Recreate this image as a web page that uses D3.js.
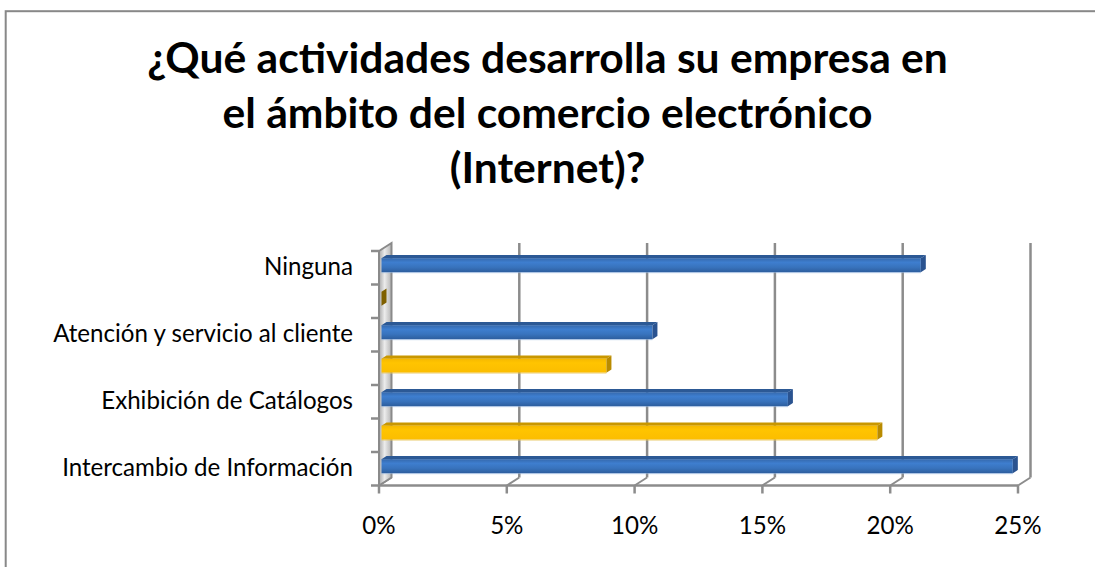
<!DOCTYPE html>
<html>
<head>
<meta charset="utf-8">
<script src="https://cdn.jsdelivr.net/npm/d3@7"></script>
<style>
  html, body { margin: 0; padding: 0; background: #fff; }
  svg { display: block; }
</style>
</head>
<body>
<svg id="chart" width="1095" height="567"></svg>
<script>
// Title lines
const titleLines = [
  "¿Qué actividades desarrolla su empresa en",
  "el ámbito del comercio electrónico",
  "(Internet)?"
];

// Categories, top to bottom (every other label is skipped on the axis)
const categories = [
  "Ninguna",
  "",
  "Atención y servicio al cliente",
  "",
  "Exhibición de Catálogos",
  "",
  "Intercambio de Información"
];

// Percentages for each category
const values = [21.1, 0, 10.6, 8.8, 15.9, 19.4, 24.7];

// Colour group of each bar
const barGroup = ["blue", "gold", "blue", "gold", "blue", "gold", "blue"];

// Value axis ticks
const xTicks = [0, 5, 10, 15, 20, 25];

const svg = d3.select("#chart");
const W = 1095, H = 567;
const labelFont = "Lato, 'Open Sans', sans-serif";

svg.append("rect").attr("width", W).attr("height", H).attr("fill", "#fff");

// chart frame (runs off the right and bottom edges)
svg.append("rect")
  .attr("x", 5.7).attr("y", 11.2)
  .attr("width", 1200).attr("height", 700)
  .attr("fill", "none").attr("stroke", "#888").attr("stroke-width", 2);

// fit a font size so a string gets a given width
function fitSize(text, weight, targetWidth, base) {
  const t = svg.append("text")
    .attr("font-family", labelFont).attr("font-weight", weight)
    .attr("font-size", base).text(text);
  const w = t.node().getComputedTextLength();
  t.remove();
  return base * targetWidth / w;
}

// ---- title ----
const titleSize = fitSize(titleLines[0], "bold", 801, 36);
svg.append("g").selectAll("text").data(titleLines).join("text")
  .attr("x", 547.5)
  .attr("y", (d, i) => 73 + i * 55)
  .attr("text-anchor", "middle")
  .attr("font-family", labelFont)
  .attr("font-weight", "bold")
  .attr("font-size", titleSize)
  .attr("fill", "#000")
  .text(d => d);

// ---- 3D plot geometry ----
const x = d3.scaleLinear().domain([0, 25]).range([379, 1018]);
const y = d3.scaleBand().domain(d3.range(categories.length)).range([251, 485.5]).paddingInner(0).paddingOuter(0);
const dx = 12.5, dy = -8;          // depth offset of the back wall
const f0 = 0.2, f1 = 0.6;          // bar depth span (fraction of depth)
const barH = 14;
const yTop = y.range()[0], yBot = y.range()[1];
const x0 = x(0);

const defs = svg.append("defs");

// side wall gradient
const wallGrad = defs.append("linearGradient").attr("id", "wallGrad")
  .attr("x1", "0").attr("x2", "1").attr("y1", "0").attr("y2", "0");
wallGrad.append("stop").attr("offset", "0%").attr("stop-color", "#a9a9a9");
wallGrad.append("stop").attr("offset", "45%").attr("stop-color", "#ececec");
wallGrad.append("stop").attr("offset", "100%").attr("stop-color", "#b4b4b4");

// bar front gradients
const blueGrad = defs.append("linearGradient").attr("id", "blueFront")
  .attr("x1", "0").attr("x2", "0").attr("y1", "0").attr("y2", "1");
blueGrad.append("stop").attr("offset", "0%").attr("stop-color", "#3569ad");
blueGrad.append("stop").attr("offset", "30%").attr("stop-color", "#3e7ecf");
blueGrad.append("stop").attr("offset", "65%").attr("stop-color", "#3873bd");
blueGrad.append("stop").attr("offset", "100%").attr("stop-color", "#2d5e9e");

const goldGrad = defs.append("linearGradient").attr("id", "goldFront")
  .attr("x1", "0").attr("x2", "0").attr("y1", "0").attr("y2", "1");
goldGrad.append("stop").attr("offset", "0%").attr("stop-color", "#f5b800");
goldGrad.append("stop").attr("offset", "30%").attr("stop-color", "#ffc400");
goldGrad.append("stop").attr("offset", "100%").attr("stop-color", "#fbbd00");

const palette = {
  blue: { front: "url(#blueFront)", top: "#2c5995", end: "#2a5390", edge: "#8fb0dc" },
  gold: { front: "url(#goldFront)", top: "#c99700", end: "#7f6000", edge: "#e8c860" }
};

const gridColor = "#8c8c8c";
const plot = svg.append("g");

// back-wall gridlines
plot.append("g").selectAll("line").data(xTicks.filter(t => t > 0)).join("line")
  .attr("x1", d => x(d) + dx).attr("x2", d => x(d) + dx)
  .attr("y1", yTop + dy).attr("y2", yBot + dy)
  .attr("stroke", gridColor).attr("stroke-width", 2.5);

// floor diagonals from back wall to the front edge
plot.append("g").selectAll("line").data(xTicks).join("line")
  .attr("x1", d => x(d)).attr("x2", d => x(d) + dx)
  .attr("y1", yBot).attr("y2", yBot + dy)
  .attr("stroke", gridColor).attr("stroke-width", 2);

// side wall
plot.append("polygon")
  .attr("points", [[x0, yTop], [x0 + dx, yTop + dy], [x0 + dx, yBot + dy], [x0, yBot]].map(p => p.join(",")).join(" "))
  .attr("fill", "url(#wallGrad)")
  .attr("stroke", "#8a8a8a").attr("stroke-width", 2);

// front baseline with tick marks
plot.append("line")
  .attr("x1", x0).attr("x2", x(25)).attr("y1", yBot).attr("y2", yBot)
  .attr("stroke", gridColor).attr("stroke-width", 2.5);
plot.append("g").selectAll("line").data(xTicks).join("line")
  .attr("x1", d => x(d)).attr("x2", d => x(d))
  .attr("y1", yBot).attr("y2", yBot + 8)
  .attr("stroke", gridColor).attr("stroke-width", 2.5);

// category ticks on the front edge of the wall
const bounds = d3.range(categories.length + 1).map(i => yTop + i * y.bandwidth());
plot.append("g").selectAll("line").data(bounds).join("line")
  .attr("x1", x0 - 8).attr("x2", x0)
  .attr("y1", d => d).attr("y2", d => d)
  .attr("stroke", gridColor).attr("stroke-width", 2.5);

// ---- bars ----
const rows = categories.map((c, i) => ({ i, label: c, value: values[i], group: barGroup[i] }));
const bars = plot.append("g").selectAll("g").data(rows).join("g");

bars.each(function(d) {
  const g = d3.select(this);
  const c = palette[d.group];
  const cy = y(d.i) + y.bandwidth() / 2 + dy * f0 - 1;
  const fy0 = cy - barH / 2, fy1 = cy + barH / 2;
  const fxa = x(0) + dx * f0, fxb = x(d.value) + dx * f0;
  const ddx = dx * (f1 - f0), ddy = dy * (f1 - f0);
  // top face
  g.append("polygon")
    .attr("points", [[fxa, fy0], [fxb, fy0], [fxb + ddx, fy0 + ddy], [fxa + ddx, fy0 + ddy]].map(p => p.join(",")).join(" "))
    .attr("fill", c.top);
  // front face
  g.append("rect")
    .attr("x", fxa).attr("y", fy0)
    .attr("width", Math.max(0, fxb - fxa)).attr("height", barH)
    .attr("fill", c.front);
  if (d.value > 0) {
    g.append("line")
      .attr("x1", fxa).attr("x2", fxb).attr("y1", fy1 + 0.5).attr("y2", fy1 + 0.5)
      .attr("stroke", c.edge).attr("stroke-width", 1).attr("opacity", 0.7);
  }
  // end face
  g.append("polygon")
    .attr("points", [[fxb, fy0], [fxb + ddx, fy0 + ddy], [fxb + ddx, fy1 + ddy], [fxb, fy1]].map(p => p.join(",")).join(" "))
    .attr("fill", d.value > 0 ? (d.group === "gold" ? "#b98b00" : c.end) : c.end);
});

// ---- labels ----
const catSize = fitSize("Intercambio de Información", "normal", 291, 20);
svg.append("g").selectAll("text").data(rows.filter(d => d.label)).join("text")
  .attr("x", 353)
  .attr("y", d => y(d.i) + y.bandwidth() / 2 + 7.5)
  .attr("text-anchor", "end")
  .attr("font-family", labelFont)
  .attr("font-size", catSize)
  .attr("fill", "#000")
  .text(d => d.label);

svg.append("g").selectAll("text").data(xTicks).join("text")
  .attr("x", d => x(d))
  .attr("y", 534)
  .attr("text-anchor", "middle")
  .attr("font-family", labelFont)
  .attr("font-size", catSize)
  .attr("fill", "#000")
  .text(d => d + "%");
</script>
</body>
</html>
